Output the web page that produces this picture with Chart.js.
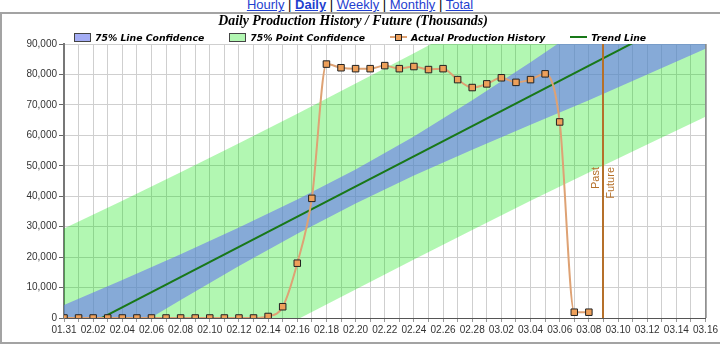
<!DOCTYPE html>
<html>
<head>
<meta charset="utf-8">
<script src="https://cdn.jsdelivr.net/npm/chart.js@4.4.1/dist/chart.umd.min.js"></script>
<style>
  html, body { margin: 0; padding: 0; background: #fff; overflow: hidden; }
  #nav { position: absolute; left: 0; top: -2px; width: 720px; text-align: center;
         font: 13px "Liberation Sans", Arial, sans-serif; line-height: 13px; color: #000; }
  #nav a { color: #1f3fcf; text-decoration: underline; }
  #frame { position: absolute; left: 0; top: 12px; width: 740px; height: 332px;
           border: 2px solid #a3a3a3; box-sizing: border-box; }
  #wrap { position: absolute; left: 0; top: 0; width: 720px; height: 345px; }
  #legende { position: absolute; left: 0; top: 31px; width: 720px; height: 13px;
             display: flex; justify-content: center; align-items: center; gap: 25px;
             font: italic bold 9.3px "DejaVu Sans", Verdana, sans-serif; line-height: 13px; color: #000; }
  .item { display: flex; align-items: center; white-space: nowrap; }
  .icone { position: relative; width: 17px; height: 9px; margin-right: 4px; }
  .caixa { box-sizing: border-box; border: 1px solid #444; }
  .linha { position: absolute; left: 0; top: 3px; width: 17px; height: 2px; }
  .marca { position: absolute; left: 5px; top: 1px; width: 7px; height: 7px; box-sizing: border-box;
           border: 1px solid #222; background: #eea05a; }
</style>
</head>
<body>
<div id="nav"><a href="#">Hourly</a> | <a href="#"><b>Daily</b></a> | <a href="#">Weekly</a> | <a href="#">Monthly</a> | <a href="#">Total</a></div>
<div id="frame"></div>
<div id="wrap"><canvas id="grafico" width="720" height="345"></canvas></div>
<div id="legende"></div>
<script>
// dias do eixo x (01.31 ate 03.16)
const dias = ['01.31','02.01','02.02','02.03','02.04','02.05','02.06','02.07','02.08','02.09',
  '02.10','02.11','02.12','02.13','02.14','02.15','02.16','02.17','02.18','02.19','02.20',
  '02.21','02.22','02.23','02.24','02.25','02.26','02.27','02.28','03.01','03.02','03.03',
  '03.04','03.05','03.06','03.07','03.08','03.09','03.10','03.11','03.12','03.13','03.14',
  '03.15','03.16'];

// producao real, um valor por dia a partir de 01.31
const producao = [0, 0, 0, 0, 0, 0, 0, 0, 0, 0, 0, 0, 0, 0, 500, 3700, 18000, 39300,
  83400, 82200, 81900, 81900, 82900, 81900, 82600, 81600, 81900, 78300, 75700, 76900,
  78900, 77400, 78300, 80200, 64400, 1900, 1900];

// linha de tendencia (pontos extremos)
const diasTendencia = [0, 44];
const tendencia = [-6400, 102700];

// faixas de confianca lidas a cada 4 dias
const diasFaixa = [0, 4, 8, 12, 16, 20, 24, 28, 32, 36, 40, 44];
const linhaSup = [4300, 12500, 20900, 29700, 38900, 48800, 59600, 71500, 84000, 97000, 110000, 123000];
const linhaInf = [-17100, -5500, 5900, 17100, 27700, 37600, 46800, 55300, 63500, 71500, 80000, 88400];
const pontoSup = [29400, 38500, 47900, 57400, 67100, 77000, 87000, 97100, 107500, 118000, 128600, 139300];
const pontoInf = [-42200, -31500, -21100, -10600, -500, 9400, 19200, 28900, 38500, 47800, 57000, 66100];

const diaPassadoFuturo = 37;
const yMax = 90000;
const yPasso = 10000;

const pares = (xs, ys) => xs.map((x, i) => ({ x: x, y: ys[i] }));

const corAzul = 'rgba(103,118,238,0.6)';
const corVerde = 'rgba(0,230,0,0.3)';
const corTendencia = '#187818';
const corLinhaReal = '#dea274';
const corMarco = '#b5702a';

const passadoFuturo = {
  id: 'passadoFuturo',
  afterDatasetsDraw(chart) {
    const { ctx, chartArea, scales } = chart;
    const px = Math.round(scales.x.getPixelForValue(diaPassadoFuturo));
    ctx.save();
    ctx.strokeStyle = '#555';
    ctx.lineWidth = 1;
    ctx.beginPath();
    ctx.moveTo(chartArea.right + 0.5, chartArea.top);
    ctx.lineTo(chartArea.right + 0.5, chartArea.bottom);
    ctx.stroke();
    ctx.strokeStyle = corMarco;
    ctx.lineWidth = 2;
    ctx.beginPath();
    ctx.moveTo(px, chartArea.top);
    ctx.lineTo(px, chartArea.bottom);
    ctx.stroke();
    ctx.fillStyle = corMarco;
    ctx.font = '11px "Liberation Sans", Arial, sans-serif';
    ctx.translate(px, 167);
    ctx.rotate(-Math.PI / 2);
    ctx.textAlign = 'right';
    ctx.textBaseline = 'bottom';
    ctx.fillText('Past', 0, -2);
    ctx.textBaseline = 'top';
    ctx.fillText('Future', 0, 2);
    ctx.restore();
  }
};

const ctx = document.getElementById('grafico').getContext('2d');
const grafico = new Chart(ctx, {
  type: 'line',
  data: {
    datasets: [
      { label: '75% Line Confidence', data: pares(diasFaixa, linhaSup), borderWidth: 0,
        pointRadius: 0, backgroundColor: corAzul, fill: '+1', order: 30 },
      { label: 'linhaInf', data: pares(diasFaixa, linhaInf), borderWidth: 0,
        pointRadius: 0, fill: false, order: 30 },
      { label: '75% Point Confidence', data: pares(diasFaixa, pontoSup), borderWidth: 0,
        pointRadius: 0, backgroundColor: corVerde, fill: '+1', order: 40 },
      { label: 'pontoInf', data: pares(diasFaixa, pontoInf), borderWidth: 0,
        pointRadius: 0, fill: false, order: 40 },
      { label: 'Actual Production History', data: producao.map((v, i) => ({ x: i, y: v })),
        borderColor: corLinhaReal, borderWidth: 2, cubicInterpolationMode: 'monotone', fill: false,
        pointStyle: 'rect', pointRadius: 4.6, pointBackgroundColor: '#eea05a',
        pointBorderColor: '#222', pointBorderWidth: 1, order: 10 },
      { label: 'Trend Line', data: pares(diasTendencia, tendencia), borderColor: corTendencia,
        borderWidth: 2, pointRadius: 0, fill: false, order: 20 }
    ]
  },
  options: {
    responsive: false,
    animation: false,
    layout: { padding: { top: 0, right: 14, bottom: 0, left: 0 } },
    plugins: {
      legend: { display: false },
      tooltip: { enabled: false },
      title: {
        display: true,
        text: 'Daily Production History / Future (Thousands)',
        color: '#000',
        font: { family: '"Liberation Serif", "Times New Roman", serif', size: 13.8,
                weight: 'bold', style: 'italic', lineHeight: '16px' },
        padding: { top: 13, bottom: 15 }
      }
    },
    scales: {
      x: {
        type: 'linear',
        min: 0,
        max: dias.length - 1,
        afterFit(scale) { scale.height = 27; },
        border: { color: '#555', width: 1 },
        grid: { color: '#cfcfcf', tickColor: '#999', tickLength: 4 },
        ticks: {
          stepSize: 1, autoSkip: false, maxRotation: 0, padding: 2,
          color: '#333', font: { family: '"Liberation Sans", Arial, sans-serif', size: 10 },
          callback: v => (v % 2 === 0 ? dias[v] : '')
        }
      },
      y: {
        min: 0,
        max: yMax,
        afterFit(scale) { scale.width = 64; },
        border: { color: '#777', width: 2 },
        grid: { color: '#cfcfcf', tickColor: '#666', tickLength: 5 },
        ticks: {
          stepSize: yPasso, padding: 2, color: '#333',
          font: { family: '"Liberation Sans", Arial, sans-serif', size: 10 },
          callback: v => v.toLocaleString('en-US')
        }
      }
    }
  },
  plugins: [passadoFuturo]
});

// legenda em HTML feita a partir dos datasets
const ds = grafico.data.datasets;
const legenda = [
  { texto: ds[0].label, icone: '<div class="icone caixa" style="background:' + corAzul + '"></div>' },
  { texto: ds[2].label, icone: '<div class="icone caixa" style="background:' + corVerde + '"></div>' },
  { texto: ds[4].label, icone: '<div class="icone"><div class="linha" style="background:' + corLinhaReal + '"></div><div class="marca"></div></div>' },
  { texto: ds[5].label, icone: '<div class="icone"><div class="linha" style="background:' + corTendencia + '"></div></div>' }
];
document.getElementById('legende').innerHTML = legenda
  .map(l => '<div class="item">' + l.icone + '<span>' + l.texto + '</span></div>')
  .join('');
</script>
</body>
</html>
